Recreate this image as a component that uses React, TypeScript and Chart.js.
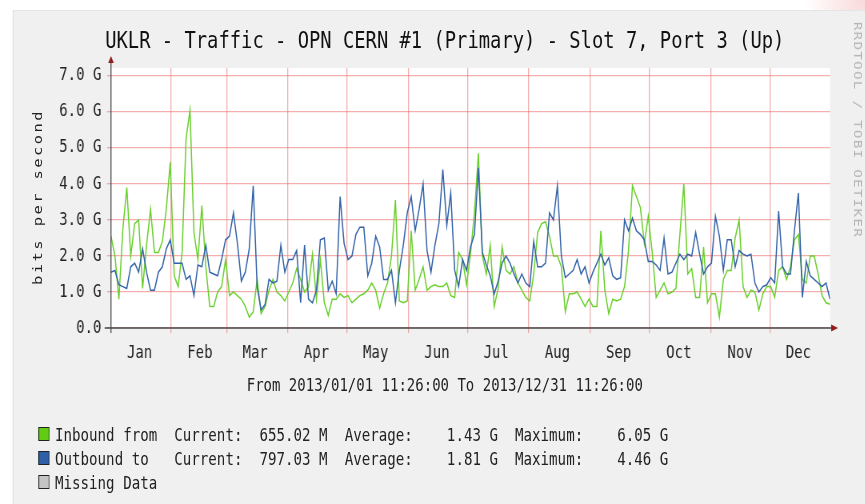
import React, { useEffect, useRef } from "react";
import { Chart, registerables } from "chart.js";

Chart.register(...registerables);

// ---------- data ----------
const chartTitle = "UKLR - Traffic - OPN CERN #1 (Primary) - Slot 7, Port 3 (Up)";
const yAxisTitle = "bits per second";
const footerText = "From 2013/01/01 11:26:00 To 2013/12/31 11:26:00";
const watermark = "RRDTOOL / TOBI OETIKER";

const monthNames = ["Jan", "Feb", "Mar", "Apr", "May", "Jun", "Jul", "Aug", "Sep", "Oct", "Nov", "Dec"];
// days since 2013/01/01 11:26 of each month start (Feb..Dec)
const monthStartDays = [30.52, 58.52, 89.52, 119.52, 150.52, 180.52, 211.52, 242.52, 272.52, 303.52, 333.52];
// label positions (days)
const monthLabelDays = [14.5, 45, 73, 104, 134, 165, 195, 226, 257, 287.5, 318.5, 348];

const yTickValues = [0, 0.5, 1, 1.5, 2, 2.5, 3, 3.5, 4, 4.5, 5, 5.5, 6, 6.5, 7];
const yMax = 7.22;
const xMax = 364;

// one sample every 2 days, values in G bits/s
const sampleDays = Array.from({ length: 183 }, (_, i) => i * 2);

const inbound = [
  2.55, 2.0, 0.8, 2.75, 3.9, 2.0, 2.9, 3.0, 1.1, 2.3, 3.3, 2.1, 2.1, 2.4, 3.3, 4.6, 1.45, 1.15, 2.1, 5.25,
  6.05, 2.65, 1.9, 3.4, 1.7, 0.6, 0.6, 1.0, 1.15, 1.9, 0.9, 1.0, 0.9, 0.8, 0.6, 0.3, 0.45, 1.35, 0.4, 0.6,
  1.05, 1.35, 1.0, 0.9, 0.75, 1.0,
  1.25, 1.65, 1.35, 1.0, 1.15, 2.05, 0.8, 1.9, 0.7, 0.35, 0.8, 0.8, 0.95, 0.85, 0.9, 0.7, 0.8, 0.9, 0.95, 1.05,
  1.25, 1.05, 0.55, 0.95, 1.25, 2.0, 3.55, 0.75, 0.7, 0.75, 2.7, 1.05, 1.35, 1.7, 1.05, 1.15, 1.2, 1.15, 1.15, 1.25,
  0.9, 0.85, 2.1, 1.9, 1.2,
  2.05, 3.2, 4.85, 2.0, 1.5, 2.3, 0.6, 1.1, 2.25, 1.6, 1.5, 1.7, 1.25, 1.05, 0.85, 0.75, 1.5, 2.65, 2.9, 2.95,
  2.55, 2.0, 2.0, 1.7, 0.45, 0.95, 0.95, 1.0, 0.8, 0.6, 0.8, 0.6, 0.6, 2.7, 1.05, 0.4, 0.8, 0.75, 0.8, 1.15,
  2.15, 3.95, 3.65, 3.35, 2.35,
  3.1, 2.1, 0.85, 1.05, 1.25, 0.95, 1.0, 1.1, 2.6, 4.0, 1.5, 1.65, 0.85, 0.85, 2.25, 0.7, 0.95, 0.95, 0.3, 1.35,
  1.6, 1.6, 2.5, 3.0, 1.15, 0.85, 1.05, 1.0, 0.5, 0.95, 1.15, 1.15, 0.85, 1.6, 1.7, 1.35, 1.7, 2.45, 2.6, 1.35,
  1.25, 2.0, 2.0, 1.5, 0.9, 0.7, 0.66,
];

const outbound = [
  1.55, 1.6, 1.2, 1.15, 1.1, 1.7, 1.8, 1.55, 2.2, 1.55, 1.05, 1.05, 1.55, 1.7, 2.2, 2.45, 1.8, 1.8, 1.8, 1.35,
  1.45, 0.9, 1.75, 1.7, 2.3, 1.55, 1.5, 1.45, 1.9, 2.45, 2.55, 3.2, 2.35, 1.3, 1.55, 2.2, 3.95, 1.15, 0.5, 0.65,
  1.35, 1.25, 1.3, 2.3, 1.55, 1.9,
  1.9, 2.15, 0.7, 2.3, 0.8, 0.7, 1.05, 2.45, 2.5, 1.05, 1.3, 0.95, 3.65, 2.35, 1.9, 2.0, 2.6, 2.8, 2.8, 1.45,
  1.8, 2.55, 2.25, 1.35, 1.35, 1.6, 0.7, 1.6, 2.3, 3.2, 3.65, 2.7, 3.3, 4.0, 2.15, 1.55, 2.3, 2.9, 4.4, 2.85,
  3.75, 1.6, 1.15, 1.9, 1.6,
  2.25, 2.6, 4.45, 2.1, 1.75, 1.45, 0.95, 1.3, 1.8, 2.0, 1.8, 1.5, 1.25, 1.5, 1.25, 1.15, 2.4, 1.7, 1.7, 1.8,
  3.2, 3.0, 3.95, 2.0, 1.4, 1.5, 1.6, 1.9, 1.5, 1.7, 1.25, 1.55, 1.8, 2.05, 1.75, 1.95, 1.45, 1.35, 1.4, 3.0,
  2.7, 3.05, 2.7, 2.6, 2.45,
  1.85, 1.85, 1.75, 1.6, 2.5, 1.5, 1.55, 1.8, 2.05, 1.9, 2.05, 2.0, 2.65, 2.05, 1.5, 1.7, 1.8, 3.1, 2.55, 1.6,
  2.45, 2.45, 1.7, 2.15, 2.05, 2.0, 2.05, 1.25, 1.0, 1.15, 1.2, 1.4, 1.25, 3.25, 1.7, 1.5, 1.5, 2.7, 3.75, 0.85,
  1.85, 1.45, 1.35, 1.25, 1.15, 1.25, 0.8,
];

const legendRows = [
  { color: "#62cc14", text: "Inbound from  Current:  655.02 M  Average:    1.43 G  Maximum:    6.05 G" },
  { color: "#2f5fa6", text: "Outbound to   Current:  797.03 M  Average:    1.81 G  Maximum:    4.46 G" },
  { color: "#c4c4c4", text: "Missing Data" },
];

// ---------- layout ----------
const SX = 0.8; // horizontal condensing of the whole picture
const CW = 1081; // canvas width before condensing
const CH = 504;
const FONT = '"DejaVu Sans Mono", monospace';

const GREEN = "#6ad02c";
const BLUE = "#3363a8";

const rrdPlugin = {
  id: "rrdFrame",
  beforeDraw(chart: any) {
    const { ctx, chartArea: a } = chart;
    ctx.save();
    ctx.fillStyle = "#ffffff";
    ctx.fillRect(a.left, a.top, a.right - a.left, a.bottom - a.top);
    ctx.restore();
  },
  afterDraw(chart: any) {
    const { ctx, chartArea: a } = chart;
    ctx.save();
    ctx.strokeStyle = "#4a4a4a";
    ctx.lineWidth = 1.3;
    ctx.beginPath();
    ctx.moveTo(a.left, a.bottom + 5);
    ctx.lineTo(a.left, a.top - 6);
    ctx.stroke();
    ctx.beginPath();
    ctx.moveTo(a.left - 8, a.bottom);
    ctx.lineTo(a.right + 3, a.bottom);
    ctx.stroke();
    ctx.fillStyle = "#8e1c1c";
    ctx.beginPath();
    ctx.moveTo(a.left - 3.5, a.top - 5);
    ctx.lineTo(a.left + 3.5, a.top - 5);
    ctx.lineTo(a.left, a.top - 12);
    ctx.closePath();
    ctx.fill();
    ctx.beginPath();
    ctx.moveTo(a.right + 1.5, a.bottom - 3.5);
    ctx.lineTo(a.right + 1.5, a.bottom + 3.5);
    ctx.lineTo(a.right + 10, a.bottom);
    ctx.closePath();
    ctx.fill();
    ctx.restore();
  },
};

export default function App() {
  const ref = useRef<HTMLCanvasElement | null>(null);

  useEffect(() => {
    if (!ref.current) return;
    const toPts = (vals: number[]) => sampleDays.map((d, i) => ({ x: d, y: vals[i] }));
    const chart = new Chart(ref.current, {
      type: "line",
      data: {
        datasets: [
          {
            label: "Outbound to",
            data: toPts(outbound),
            borderColor: BLUE,
            borderWidth: 1.5,
            pointRadius: 0,
            tension: 0,
            xAxisID: "x",
            yAxisID: "y",
          },
          {
            label: "Inbound from",
            data: toPts(inbound),
            borderColor: GREEN,
            borderWidth: 1.5,
            pointRadius: 0,
            tension: 0,
            xAxisID: "x",
            yAxisID: "y",
          },
        ],
      },
      options: {
        responsive: false,
        animation: false,
        events: [],
        layout: { padding: { left: 0, top: 68, right: 43.5, bottom: 136 } },
        plugins: { legend: { display: false }, tooltip: { enabled: false }, title: { display: false } },
        scales: {
          x: {
            type: "linear",
            position: "bottom",
            weight: 0,
            min: 0,
            max: xMax,
            afterBuildTicks: (s: any) => {
              s.ticks = monthStartDays.map((v) => ({ value: v }));
            },
            afterFit: (s: any) => {
              s.height = 0;
            },
            ticks: { display: false, autoSkip: false },
            grid: { color: "rgba(235,120,120,0.6)", lineWidth: 1.3, drawTicks: true, tickLength: 5 },
            border: { display: false },
          },
          x2: {
            type: "linear",
            position: "bottom",
            weight: 1,
            min: 0,
            max: xMax,
            afterBuildTicks: (s: any) => {
              s.ticks = monthLabelDays.map((v) => ({ value: v }));
            },
            afterFit: (s: any) => {
              s.height = 40;
            },
            ticks: {
              autoSkip: false,
              maxRotation: 0,
              padding: 15,
              color: "#222",
              font: { family: FONT, size: 17.5 },
              callback: (_v: any, i: number) => monthNames[i],
            },
            grid: { display: false, drawTicks: false },
            border: { display: false },
          },
          y: {
            type: "linear",
            min: 0,
            max: yMax,
            afterBuildTicks: (s: any) => {
              s.ticks = yTickValues.map((v) => ({ value: v }));
            },
            afterFit: (s: any) => {
              s.width = 138.75;
            },
            ticks: {
              padding: 7,
              color: "#222",
              font: { family: FONT, size: 17.5 },
              callback: (v: any) => {
                const n = Number(v);
                if (n % 1 !== 0) return "";
                return n === 0 ? "0.0" : n.toFixed(1) + " G";
              },
            },
            grid: {
              color: (c: any) => (c.tick && c.tick.value % 1 === 0 ? "rgba(235,120,120,0.6)" : "#dedede"),
              tickColor: (c: any) => (c.tick && c.tick.value % 1 === 0 ? "rgba(235,120,120,0.6)" : "rgba(0,0,0,0)"),
              lineWidth: (c: any) => (c.tick && c.tick.value % 1 === 0 ? 1.3 : 1.7),
              drawTicks: true,
              tickLength: 5,
            },
            border: { display: false },
          },
        },
      },
      plugins: [rrdPlugin],
    } as any);
    return () => chart.destroy();
  }, []);

  const legendBaselines = [441, 465, 489];

  return (
    <div
      style={{
        position: "absolute",
        left: 0,
        top: 0,
        width: 865,
        height: 504,
        overflow: "hidden",
        background: "radial-gradient(circle at 865px 0px, rgba(240,170,170,0.45), rgba(255,255,255,0) 60px), #ffffff",
      }}
    >
      <div
        style={{
          position: "absolute",
          left: 0,
          top: 0,
          width: CW,
          height: CH,
          transform: `scaleX(${SX})`,
          transformOrigin: "0 0",
          fontFamily: FONT,
          color: "#222",
        }}
      >
        <div
          style={{
            position: "absolute",
            left: 16.25,
            top: 10,
            width: CW - 16.25,
            height: CH - 10,
            background: "#f0f0f0",
            borderLeft: "1px solid #dcdcdc",
            borderTop: "1px solid #e4e4e4",
          }}
        />
        <canvas ref={ref} width={CW} height={CH} style={{ position: "absolute", left: 0, top: 0 }} />
        <div
          style={{
            position: "absolute",
            left: 556,
            top: 26.5,
            transform: "translateX(-50%)",
            fontSize: 23.5,
            lineHeight: "27px",
            whiteSpace: "pre",
            color: "#111",
          }}
        >
          {chartTitle}
        </div>
        <div
          style={{
            position: "absolute",
            left: 47.5,
            top: 197,
            transform: "translate(-50%, -50%) rotate(-90deg)",
            fontSize: 15.5,
            letterSpacing: "2.4px",
            whiteSpace: "pre",
            color: "#222",
          }}
        >
          {yAxisTitle}
        </div>
        <div
          style={{
            position: "absolute",
            left: 1072,
            top: 130,
            transform: "translate(-50%, -50%) rotate(90deg)",
            fontSize: 14,
            letterSpacing: "1.4px",
            whiteSpace: "pre",
            color: "#b4b4b4",
          }}
        >
          {watermark}
        </div>
        <div
          style={{
            position: "absolute",
            left: 556,
            top: 375,
            transform: "translateX(-50%)",
            fontSize: 17.5,
            lineHeight: "20px",
            whiteSpace: "pre",
            color: "#222",
          }}
        >
          {footerText}
        </div>
        {legendRows.map((r, i) => (
          <div
            key={i}
            style={{
              position: "absolute",
              left: 47.5,
              top: legendBaselines[i] - 18.2,
              height: 24,
              lineHeight: "24px",
              fontSize: 17.7,
              whiteSpace: "pre",
              color: "#222",
            }}
          >
            <span
              style={{
                position: "absolute",
                left: 0,
                top: 4.5,
                width: 12,
                height: 12,
                border: "1px solid #222",
                background: r.color,
              }}
            />
            <span style={{ position: "absolute", left: 21.25, top: 0 }}>{r.text}</span>
          </div>
        ))}
      </div>
    </div>
  );
}
